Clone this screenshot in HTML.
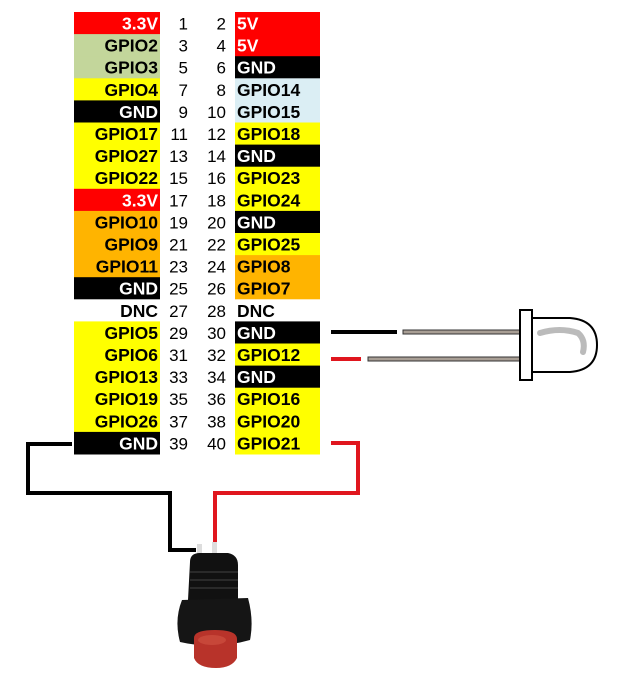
<!DOCTYPE html>
<html><head><meta charset="utf-8"><style>
html,body{margin:0;padding:0;background:#fff;width:626px;height:683px;overflow:hidden}
svg{display:block}
text{font-family:"Liberation Sans",Arial,sans-serif;font-size:17px}
.l{font-weight:bold;font-size:17.5px}
</style></head><body>
<svg width="626" height="683" viewBox="0 0 626 683" xmlns="http://www.w3.org/2000/svg">
<g id="rows"></g>
<!-- wires -->
<polyline points="72,444 28,444 28,493 170,493 170,550 196,550" fill="none" stroke="#000" stroke-width="4"/>
<polyline points="331,443 358,443 358,493 215,493 215,546" fill="none" stroke="#e0161e" stroke-width="4"/>
<!-- LED -->
<line x1="331" y1="332" x2="397" y2="332" stroke="#000" stroke-width="4"/>
<line x1="331" y1="359" x2="361" y2="359" stroke="#e0161e" stroke-width="4"/>
<rect x="403" y="330" width="118" height="4" fill="#a89e94" stroke="#333" stroke-width="1"/>
<rect x="368" y="357" width="153" height="4" fill="#a89e94" stroke="#333" stroke-width="1"/>
<path d="M532,318 L570,318 Q597,320 597,345 Q597,370 570,372 L532,372 Z" fill="#fff" stroke="#000" stroke-width="2"/>
<path d="M540,333 Q560,327 578,333 Q586,340 583,352" fill="none" stroke="#bbb" stroke-width="6" stroke-linecap="round"/>
<rect x="520" y="310" width="12" height="70" fill="#fff" stroke="#000" stroke-width="2"/>
<!-- button -->
<rect x="197" y="544" width="5" height="12" fill="#ddd"/>
<rect x="212" y="542" width="5" height="14" fill="#ddd"/>
<path d="M190,562 Q190,553 200,553 L228,553 Q238,555 238,565 L238,600 L188,600 Z" fill="#111"/>
<line x1="190" y1="572" x2="238" y2="572" stroke="#333" stroke-width="1.5"/>
<line x1="190" y1="580" x2="238" y2="580" stroke="#333" stroke-width="1.5"/>
<line x1="190" y1="588" x2="238" y2="588" stroke="#333" stroke-width="1.5"/>
<path d="M182,600 L248,598 Q254,620 250,640 Q215,650 180,642 Q174,620 182,600 Z" fill="#151515"/>
<path d="M194,638 Q194,630 215,630 Q237,630 237,639 L237,658 Q232,668 216,668 Q198,668 194,658 Z" fill="#b8332a"/>
<ellipse cx="212" cy="640" rx="14" ry="5" fill="#d05545" opacity="0.6"/>
</svg>
<script>
var L=[["3.3V","#ff0000",1],["GPIO2","#c3d69b",0],["GPIO3","#c3d69b",0],["GPIO4","#ffff00",0],["GND","#000",1],["GPIO17","#ffff00",0],["GPIO27","#ffff00",0],["GPIO22","#ffff00",0],["3.3V","#ff0000",1],["GPIO10","#ffb400",0],["GPIO9","#ffb400",0],["GPIO11","#ffb400",0],["GND","#000",1],["DNC","#fff",0],["GPIO5","#ffff00",0],["GPIO6","#ffff00",0],["GPIO13","#ffff00",0],["GPIO19","#ffff00",0],["GPIO26","#ffff00",0],["GND","#000",1]];
var R=[["5V","#ff0000",1],["5V","#ff0000",1],["GND","#000",1],["GPIO14","#dbeef4",0],["GPIO15","#dbeef4",0],["GPIO18","#ffff00",0],["GND","#000",1],["GPIO23","#ffff00",0],["GPIO24","#ffff00",0],["GND","#000",1],["GPIO25","#ffff00",0],["GPIO8","#ffb400",0],["GPIO7","#ffb400",0],["DNC","#fff",0],["GND","#000",1],["GPIO12","#ffff00",0],["GND","#000",1],["GPIO16","#ffff00",0],["GPIO20","#ffff00",0],["GPIO21","#ffff00",0]];
var s="";
for(var i=0;i<20;i++){var y=12+22.1*i,ty=y+17.5;
s+='<rect x="74" y="'+y+'" width="86" height="22.6" fill="'+L[i][1]+'"/>';
s+='<rect x="235" y="'+y+'" width="85" height="22.6" fill="'+R[i][1]+'"/>';
s+='<text class="l" x="158" y="'+ty+'" text-anchor="end" fill="'+(L[i][2]?'#fff':'#000')+'">'+L[i][0]+'</text>';
s+='<text class="l" x="237" y="'+ty+'" fill="'+(R[i][2]?'#fff':'#000')+'">'+R[i][0]+'</text>';
s+='<text x="188" y="'+ty+'" text-anchor="end">'+(2*i+1)+'</text>';
s+='<text x="226" y="'+ty+'" text-anchor="end">'+(2*i+2)+'</text>';}
document.getElementById("rows").innerHTML=s;
</script>
</body></html>
